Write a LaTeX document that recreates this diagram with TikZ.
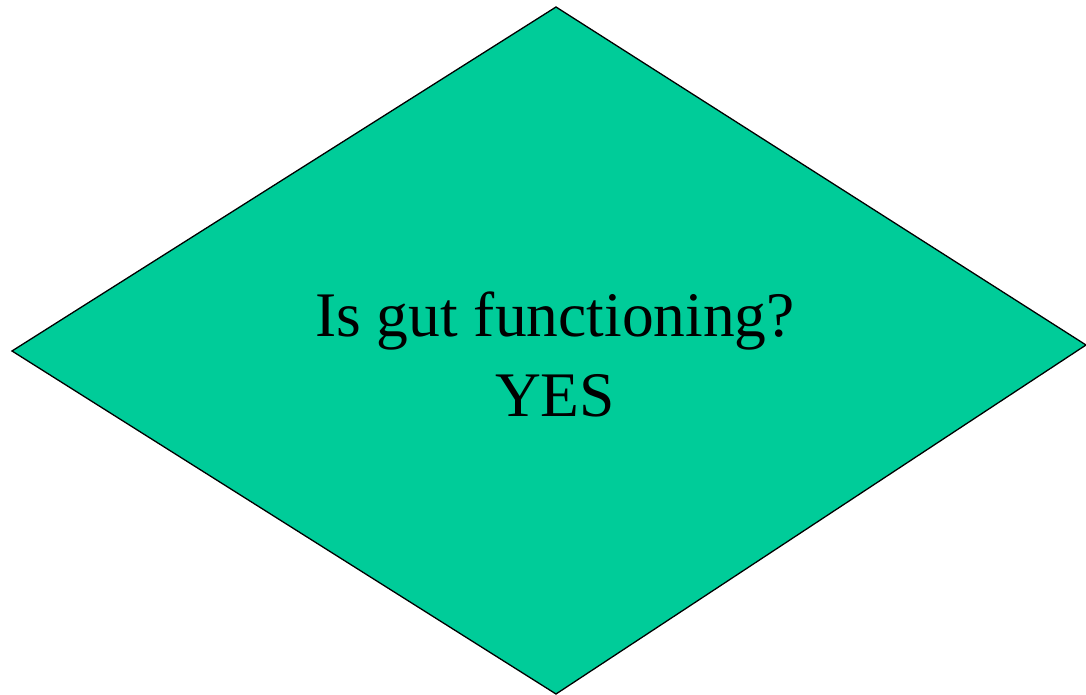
\documentclass[tikz,border=0pt]{standalone}
\usepackage{fontspec}
\setmainfont{Liberation Serif}
\definecolor{dgreen}{HTML}{00CC99}
\begin{document}
\begin{tikzpicture}[x=1pt,y=1pt,
  decision/.style={fill=dgreen,draw=black,line width=1.3pt,line join=miter}]
\useasboundingbox (0,0) rectangle (1086,695);
\coordinate (T) at (556,688);
\coordinate (L) at (12,344);
\coordinate (B) at (556,1);
\coordinate (R) at (1086,350);
\draw[decision] (T) -- (R) -- (B) -- (L) -- cycle;
\node[align=center,font=\fontsize{63.5}{80}\selectfont,inner sep=0pt] (q) at (555,341) {Is gut functioning?\\YES};
\end{tikzpicture}
\end{document}
